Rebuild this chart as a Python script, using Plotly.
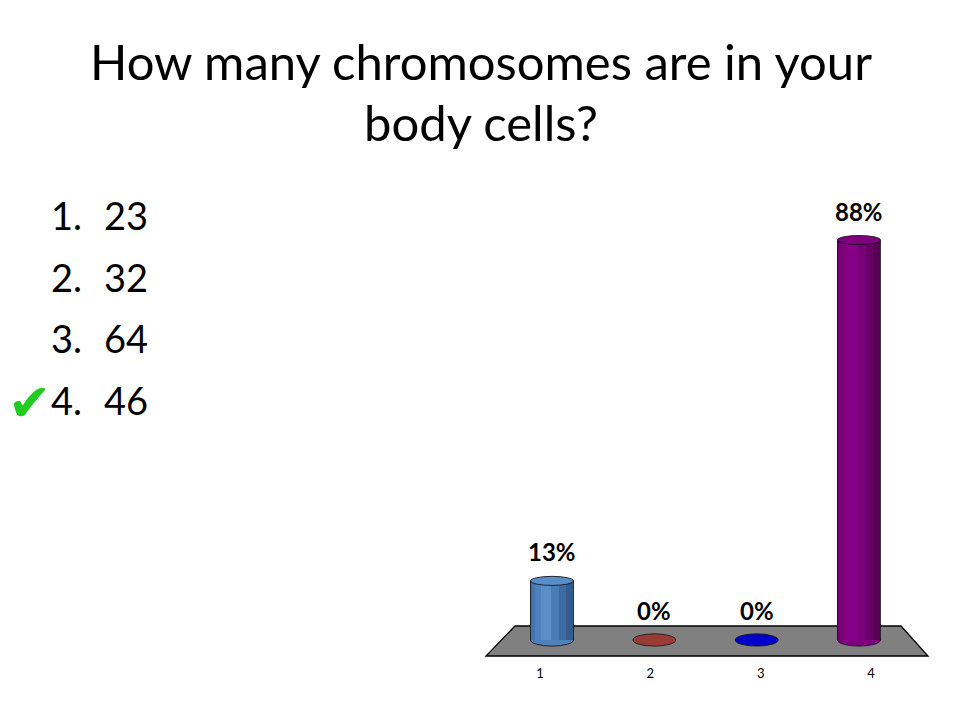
import plotly.graph_objects as go

# ---- data ----
categories = [1, 2, 3, 4]
tick_labels = ["1", "2", "3", "4"]
values = [13, 0, 0, 88]
value_labels = ["13%", "0%", "0%", "88%"]
bar_colors = ["#4F81BD", "#9B3B36", "#0000CC", "#800080"]
shade_1 = ["#4374AE", "#8A3430", "#0000B8", "#740074"]
shade_2 = ["#5B8DC9", "#A5443F", "#0808D4", "#860086"]
shade_3 = ["#4B7BB6", "#933834", "#0000C4", "#7A007A"]
shade_4 = ["#3D6AA0", "#7F302C", "#0000A8", "#680068"]
shade_5 = ["#345C8C", "#6E2724", "#000090", "#560056"]
top_colors = ["#5A8CC8", "#9B3B36", "#0000CC", "#800080"]
title_lines = ["How many chromosomes are in your", "body cells?"]
option_numbers = ["1.", "2.", "3.", "4."]
option_values = ["23", "32", "64", "46"]
correct_index = 3

W, H = 960, 720
xdom = [480.4 / W, 930.6 / W]
ydom = [(H - 662.7) / H, (H - 185.5) / H]
bar_w = 0.42
ell_h_top = 1.0   # half height of top ellipse (y units)
ell_h_bot = 1.35  # half height of bottom ellipse (y units)

fig = go.Figure()

# cylinder bodies: vertical strips for shading
strip_defs = [
    (-0.5, 0.12, shade_1),
    (-0.38, 0.14, bar_colors),
    (-0.24, 0.22, shade_2),
    (-0.02, 0.2, shade_3),
    (0.18, 0.16, shade_4),
    (0.34, 0.16, shade_5),
]
for off, frac, cols in strip_defs:
    fig.add_trace(go.Bar(
        x=categories, y=values, base=0,
        width=bar_w * frac + 0.002, offset=[bar_w * off] * len(categories),
        marker=dict(color=cols, line=dict(width=0)),
        hoverinfo="skip", showlegend=False,
    ))

# invisible trace to carry the perspective-shifted category axis
fig.add_trace(go.Scatter(
    x=categories, y=[None] * len(categories), xaxis="x2", mode="markers",
    showlegend=False, hoverinfo="skip",
))

shapes = []
# floor
pts = [(486, 656), (928, 656), (901, 626), (515, 626)]
path = "M " + " L ".join(f"{x / W},{1 - y / H}" for x, y in pts) + " Z"
shapes.append(dict(type="path", xref="paper", yref="paper", path=path,
                   fillcolor="#808080", line=dict(color="black", width=1.3),
                   layer="below"))
for c, v, col, dk, tc in zip(categories, values, bar_colors, shade_5, top_colors):
    shapes.append(dict(type="circle", xref="x", yref="y", layer="below",
                       x0=c - bar_w / 2, x1=c + bar_w / 2, y0=-ell_h_bot, y1=ell_h_bot,
                       fillcolor=col, line=dict(color="#1a1a1a", width=0.9)))
    if v > 0:
        for sx in (c - bar_w / 2, c + bar_w / 2):
            shapes.append(dict(type="line", xref="x", yref="y", layer="above",
                               x0=sx, x1=sx, y0=0, y1=v,
                               line=dict(color="#1a1a1a", width=0.9)))
        shapes.append(dict(type="circle", xref="x", yref="y", layer="above",
                           x0=c - bar_w / 2, x1=c + bar_w / 2,
                           y0=v - ell_h_top, y1=v + ell_h_top,
                           fillcolor=tc, line=dict(color="#1a1a1a", width=0.9)))

annotations = []
# value labels
for c, v, lab in zip(categories, values, value_labels):
    annotations.append(dict(text=lab, xref="x", yref="y", x=c, y=v,
                            xanchor="center", yanchor="middle", yshift=29,
                            showarrow=False,
                            font=dict(family="Lato", size=24, color="black",
                                      weight="bold")))
for i, line in enumerate(title_lines):
    annotations.append(dict(text=line, xref="paper", yref="paper",
                            x=481 / W, y=1 - (61 + 61 * i) / H, xanchor="center",
                            yanchor="middle", showarrow=False,
                            font=dict(family="Lato", size=49, color="black")))
for i, (num, val) in enumerate(zip(option_numbers, option_values)):
    yy = 1 - (215 + 61.7 * i) / H
    annotations.append(dict(text=num, xref="paper", yref="paper",
                            x=49 / W, y=yy, xanchor="left",
                            yanchor="middle", showarrow=False,
                            font=dict(family="Lato", size=38, color="black")))
    annotations.append(dict(text=val, xref="paper", yref="paper",
                            x=102 / W, y=yy, xanchor="left",
                            yanchor="middle", showarrow=False,
                            font=dict(family="Lato", size=38, color="black")))
annotations.append(dict(text="\u2714", xref="paper", yref="paper",
                        x=30 / W, y=1 - (15 + 215 + 61.7 * correct_index - 12) / H,
                        xanchor="center", yanchor="middle", showarrow=False,
                        font=dict(family="DejaVu Sans", size=52, color="#1FCC1F")))

fig.update_layout(
    width=W, height=H, margin=dict(l=0, r=0, t=0, b=0),
    paper_bgcolor="white", plot_bgcolor="rgba(0,0,0,0)",
    barmode="overlay", bargap=0,
    xaxis=dict(domain=xdom, range=[0.3, 4.7], visible=False, fixedrange=True),
    xaxis2=dict(domain=xdom, range=[0.46, 4.54], anchor="free",
                position=(H - 664) / H, overlaying="x",
                tickvals=categories, ticktext=tick_labels, ticks="",
                showline=False, showgrid=False, zeroline=False,
                tickfont=dict(family="Lato", size=13, color="black")),
    yaxis=dict(domain=ydom, range=[-5, 100], visible=False, fixedrange=True),
    shapes=shapes, annotations=annotations, showlegend=False,
)

fig.write_html("out.html", config={"displayModeBar": False},
               post_script="document.body.style.margin='0';document.body.style.overflow='hidden';")
